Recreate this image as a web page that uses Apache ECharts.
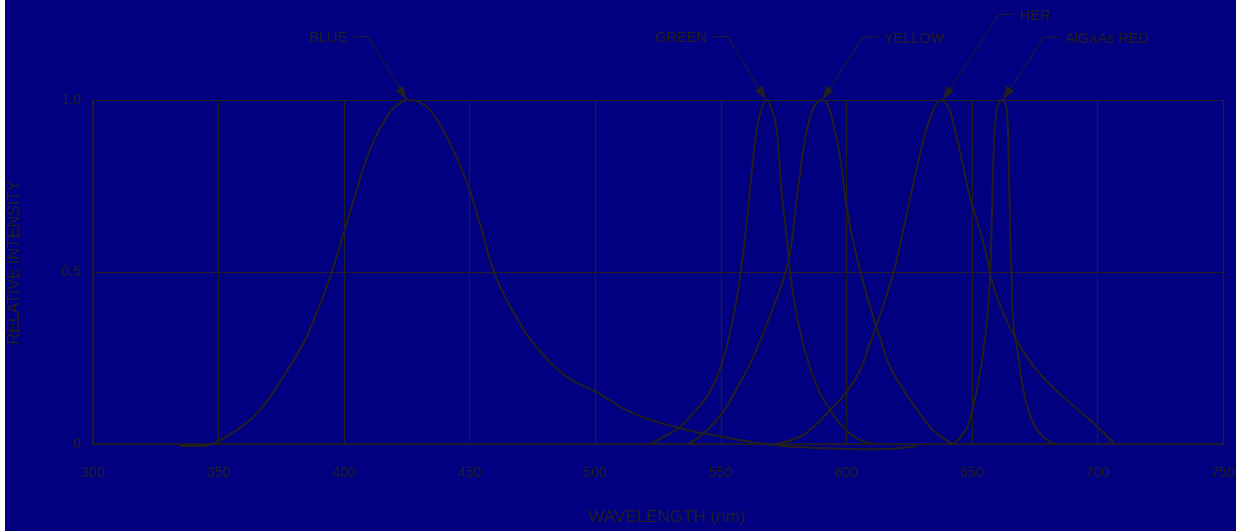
<!DOCTYPE html>
<html>
<head>
<meta charset="utf-8">
<script src="https://cdn.jsdelivr.net/npm/echarts@6/dist/echarts.min.js"></script>
<style>
  html, body { margin: 0; padding: 0; background: #fff; }
  #chart { position: absolute; left: 5px; top: 0; width: 1231px; height: 531px; background: #000080; }
</style>
</head>
<body>
<div id="chart"></div>
<script>
// LED spectra (wavelength nm / relative intensity)
const blueX = [334.4, 341, 348, 357, 364, 370.5, 377, 383.8, 389, 394.4, 399, 405, 410.3, 417, 421, 426.2, 430, 434.2, 442.2, 449.5, 454.8, 459.4, 463.4, 470, 475.3, 488.6, 500.2, 515.2, 533.8, 550.5, 570.9, 594.7, 605, 613.4, 628.3]
const blueY = [-0.006, -0.006, 0.002, 0.04, 0.08, 0.137, 0.21, 0.293, 0.38, 0.484, 0.593, 0.738, 0.855, 0.951, 0.985, 1.0, 0.993, 0.971, 0.874, 0.748, 0.622, 0.506, 0.438, 0.351, 0.293, 0.196, 0.152, 0.089, 0.046, 0.021, -0.003, -0.013, -0.015, -0.015, -0.006]

const greenX = [521.8, 527, 533.8, 539, 544.4, 550.5, 555, 557.7, 560.3, 562.3, 564.3, 566, 568.3, 570.5, 572.3, 574.2, 576.2, 578.2, 581.5, 586.8, 593.5, 601.4, 606, 612]
const greenY = [0, 0.02, 0.05, 0.09, 0.137, 0.235, 0.37, 0.486, 0.641, 0.787, 0.913, 0.97, 1.0, 0.97, 0.913, 0.738, 0.603, 0.467, 0.331, 0.196, 0.099, 0.031, 0.01, 0]

const yellowX = [537.1, 543, 550.5, 557, 563, 571, 577, 580.2, 582.9, 585.5, 588, 590.2, 592.3, 594.1, 597.5, 600.1, 604.1, 609.4, 613.4, 617.4, 625.4, 633.3, 638, 642.6]
const yellowY = [0, 0.03, 0.089, 0.17, 0.254, 0.399, 0.535, 0.709, 0.855, 0.951, 0.99, 1.0, 0.99, 0.951, 0.835, 0.69, 0.545, 0.40, 0.31, 0.225, 0.128, 0.05, 0.02, 0]

const herX = [572, 581.5, 587, 593.5, 600, 605.5, 609.4, 611.4, 618.7, 622.7, 626.7, 630.7, 634.6, 638, 640.5, 642.6, 646.6, 649.2, 653.2, 655.9, 657.9, 662.5, 668.5, 675.8, 686.4, 697, 707]
const herY = [0, 0.021, 0.05, 0.099, 0.15, 0.215, 0.293, 0.331, 0.496, 0.622, 0.758, 0.884, 0.971, 1.0, 0.98, 0.932, 0.806, 0.719, 0.622, 0.545, 0.477, 0.38, 0.293, 0.215, 0.137, 0.07, 0]

const redX = [642.6, 646.6, 649.2, 653.2, 655.9, 657.2, 657.9, 658.6, 659.9, 661.9, 663.9, 664.6, 665.2, 665.8, 666.5, 668.5, 670.5, 674.5, 679.8, 683.8]
const redY = [0, 0.03, 0.07, 0.205, 0.351, 0.486, 0.641, 0.835, 0.971, 1.0, 0.971, 0.835, 0.641, 0.486, 0.351, 0.254, 0.157, 0.06, 0.012, 0]

const xTicks = [300, 350, 400, 450, 500, 550, 600, 650, 700, 750]
const yTicks = [0, 0.5, 1.0]

// callout labels and where their arrows touch the curves
const labelNames = ['BLUE', 'GREEN', 'YELLOW', 'HER', 'AlGaAs RED']
const labelTipX = [425.0, 568.1, 590.4, 638.4, 662.3]
const labelTipY = [1.0, 1.0, 1.0, 1.0, 1.0]

// leader layout (pixels from the arrow tip to the elbow), kept apart from the data
const leaderDx = [-38.7, -38.3, 40.7, 56, 41.4]
const leaderDy = [-63.3, -63.3, -63, -85.7, -63]

const ink = '#231f20'
const font = 'Liberation Sans, Arial, sans-serif'

const zip = (xs, ys) => xs.map((x, i) => [x, ys[i]])

const makeSeries = (name, xs, ys) => ({
  name,
  type: 'line',
  data: zip(xs, ys),
  showSymbol: false,
  symbol: 'none',
  smooth: 0.45,
  clip: false,
  silent: true,
  lineStyle: { color: ink, width: 2 }
})

const chart = echarts.init(document.getElementById('chart'))

chart.setOption({
  animation: false,
  backgroundColor: '#000080',
  grid: { left: 88, right: 13, top: 100, bottom: 87, outerBoundsMode: 'none', containLabel: false },
  xAxis: {
    type: 'value',
    min: xTicks[0],
    max: xTicks[xTicks.length - 1],
    interval: 50,
    name: 'WAVELENGTH (nm)',
    nameLocation: 'middle',
    nameGap: 65,
    nameTextStyle: { color: ink, fontSize: 17, fontFamily: font, padding: [0, 0, 0, 18] },
    axisLine: { lineStyle: { color: ink, width: 1.5 } },
    axisTick: { show: false },
    axisLabel: { color: ink, fontSize: 14, fontFamily: font, margin: 22 },
    splitLine: { show: true, lineStyle: { color: ink, width: 1.2 } }
  },
  yAxis: {
    type: 'value',
    min: yTicks[0],
    max: yTicks[yTicks.length - 1],
    interval: 0.5,
    name: 'RELATIVE INTENSITY',
    nameLocation: 'middle',
    nameGap: 70,
    nameTextStyle: { color: ink, fontSize: 16, fontFamily: font, padding: [0, 0, 0, 19] },
    axisLine: { show: true, lineStyle: { color: ink, width: 1.5 } },
    axisTick: { show: false },
    axisLabel: {
      color: ink, fontSize: 14, fontFamily: font, margin: 12,
      padding: [0, 0, 6, 0],
      formatter: v => (v === 0 ? '0' : v.toFixed(1))
    },
    splitLine: { show: true, lineStyle: { color: ink, width: 1.2 } }
  },
  series: [
    makeSeries('BLUE', blueX, blueY),
    makeSeries('GREEN', greenX, greenY),
    makeSeries('YELLOW', yellowX, yellowY),
    makeSeries('HER', herX, herY),
    makeSeries('AlGaAs RED', redX, redY)
  ]
})

// Callouts: arrow to the peak, elbow, short horizontal tail, then the text
const graphics = []
labelNames.forEach((name, i) => {
  const tip = chart.convertToPixel({ gridIndex: 0 }, [labelTipX[i], labelTipY[i]])
  const elbow = [tip[0] + leaderDx[i], tip[1] + leaderDy[i]]
  const side = leaderDx[i] < 0 ? -1 : 1
  const tailEnd = [elbow[0] + side * 15, elbow[1]]

  const len = Math.hypot(tip[0] - elbow[0], tip[1] - elbow[1])
  const ux = (tip[0] - elbow[0]) / len
  const uy = (tip[1] - elbow[1]) / len
  const base = [tip[0] - ux * 14, tip[1] - uy * 14]
  const nx = -uy * 4.5
  const ny = ux * 4.5

  graphics.push({
    type: 'polyline',
    silent: true,
    shape: { points: [tailEnd, elbow, base] },
    style: { stroke: ink, lineWidth: 1, fill: null }
  })
  graphics.push({
    type: 'polygon',
    silent: true,
    shape: { points: [tip, [base[0] + nx, base[1] + ny], [base[0] - nx, base[1] - ny]] },
    style: { fill: ink }
  })
  graphics.push({
    type: 'text',
    silent: true,
    style: {
      text: name,
      x: tailEnd[0] + side * 6,
      y: elbow[1] + 1.5,
      align: side < 0 ? 'right' : 'left',
      verticalAlign: 'middle',
      fill: ink,
      fontSize: 14.5,
      fontFamily: font
    }
  })
})

chart.setOption({ graphic: graphics })

window.addEventListener('resize', () => {
  chart.resize()
})
</script>
</body>
</html>
